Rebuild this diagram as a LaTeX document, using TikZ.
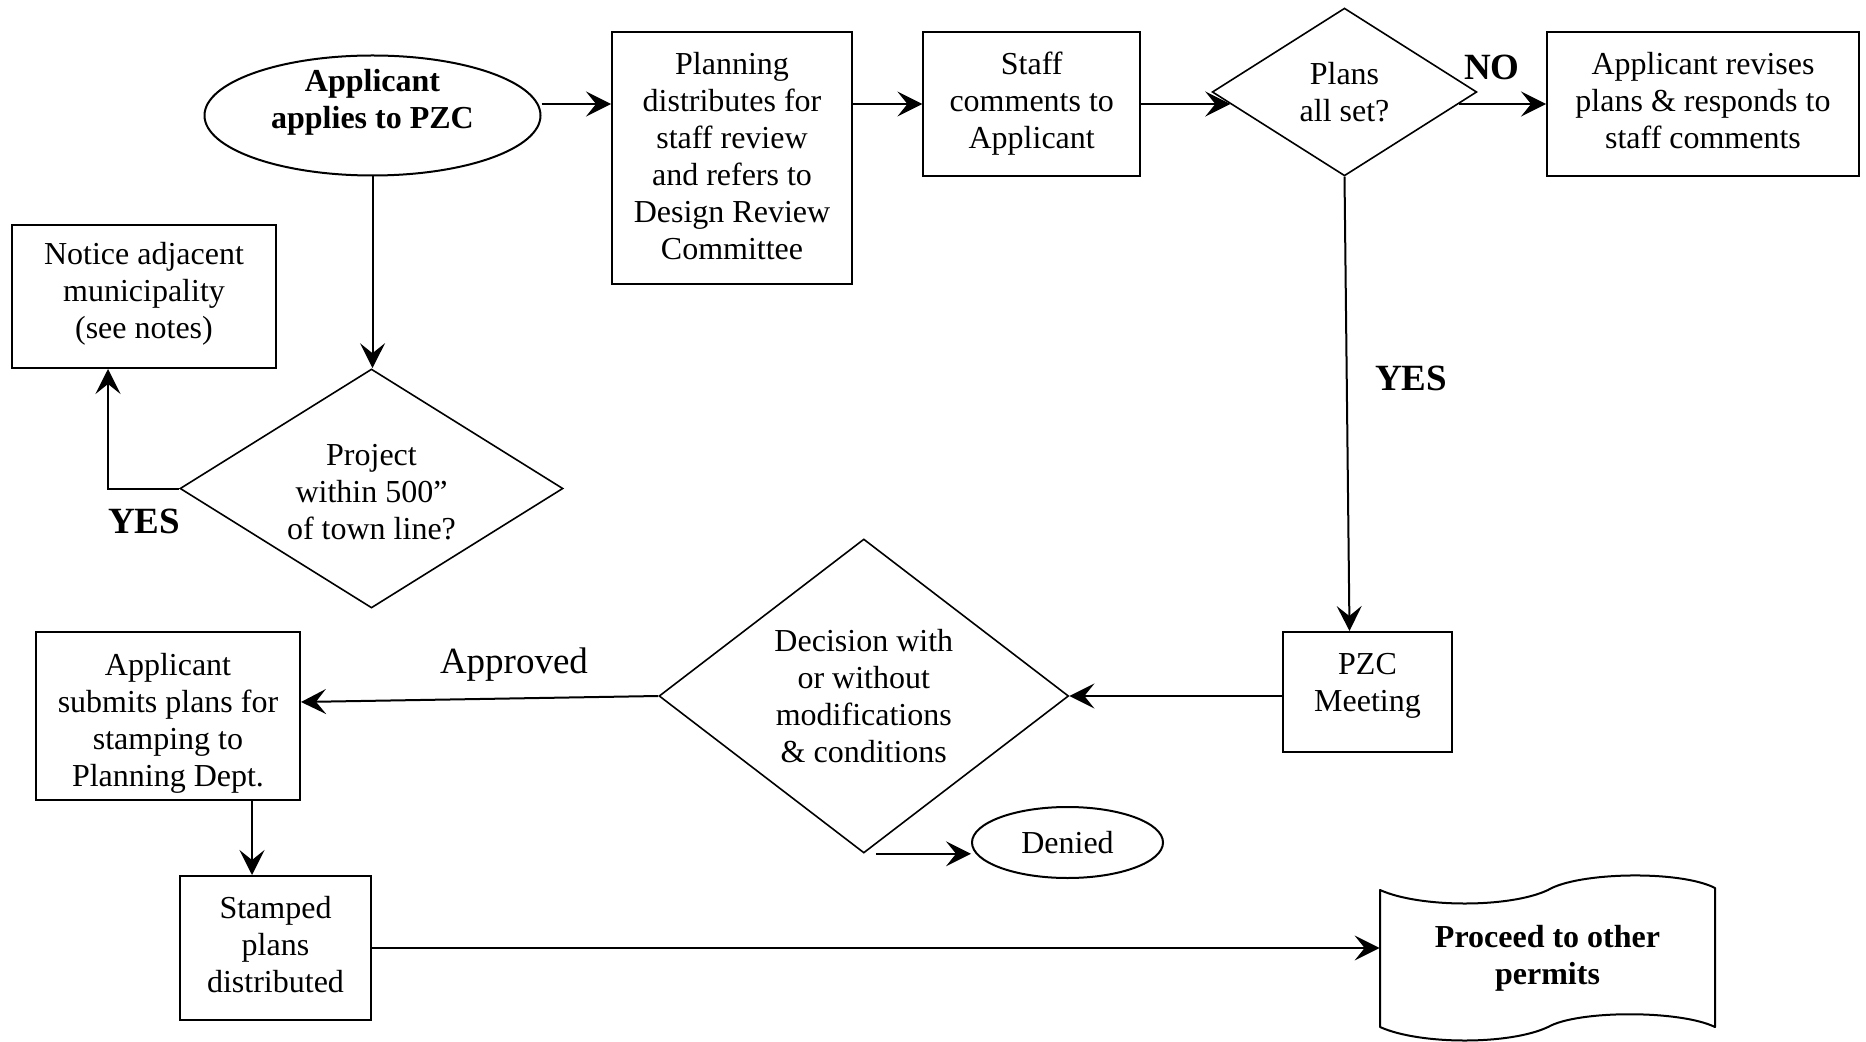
\documentclass[tikz,border=0pt]{standalone}
\usepackage{fontspec}
\setmainfont{Liberation Serif}
\usetikzlibrary{shapes.geometric,arrows.meta}
\begin{document}
\begin{tikzpicture}[x=0.5pt,y=-0.5pt,
  every node/.style={font=\fontsize{16}{18.5}\selectfont, align=center, inner sep=0pt},
  box/.style={draw, line width=1pt, rectangle},
  dia/.style={draw, diamond, line width=0.8pt},
  oval/.style={draw, ellipse, line width=1pt},
  arr/.style={-{Stealth[length=12.5pt,width=12.5pt,inset=5pt]}, line width=1pt},
  bold/.style={font=\fontsize{16}{18.5}\selectfont\bfseries},
  lab/.style={font=\fontsize{18.5}{22}\selectfont\bfseries},
  lab2/.style={font=\fontsize{18.5}{22}\selectfont}]
\useasboundingbox (0,0) rectangle (1866,1042);

% shapes
\node[oval, minimum width=168pt, minimum height=60pt] (app) at (372.5,115.5) {};
\node[bold] (appt) at (372.5,102.5) {Applicant\\applies to PZC};
\node[box, minimum width=120pt, minimum height=126pt] (plan) at (732,158.2) {};
\node (plant) at (732,155.8) {Planning\\distributes for\\staff review\\and refers to\\Design Review\\Committee};
\node[box, minimum width=108.3pt, minimum height=72pt] (staff) at (1031.7,104) {Staff\\comments to\\Applicant};
\node[dia, aspect=1.58, minimum width=132.3pt, minimum height=83.9pt] (plans) at (1344.5,92) {Plans\\all set?};
\node[box, minimum width=156pt, minimum height=72pt] (nobox) at (1703,104) {};
\node (noboxt) at (1703,100.5) {Applicant revises\\plans \& responds to\\staff comments};
\node[box, minimum width=132pt, minimum height=71.5pt] (notice) at (144,296.5) {};
\node (noticet) at (144,294.1) {Notice adjacent\\municipality\\ (see notes)};
\node[dia, aspect=1.6, minimum width=191.5pt, minimum height=119.5pt] (proj) at (371.5,488.5) {};
\node (projt) at (371.5,492) {Project\\within 500”\\of town line?};
\node[box, minimum width=84.5pt, minimum height=60pt] (pzc) at (1367.5,692) {};
\node (pzct) at (1367.5,686) {PZC\\Meeting};
\node[dia, aspect=1.3, minimum width=204.8pt, minimum height=157pt] (dec) at (863.8,696) {Decision with\\or without\\modifications\\\& conditions};
\node[box, minimum width=132pt, minimum height=84pt] (sub) at (168,716) {};
\node (subt) at (168,723) {Applicant\\submits plans for\\stamping to\\Planning Dept.};
\node[box, minimum width=95.5pt, minimum height=72pt] (stamped) at (275.5,948) {};
\node (stampedt) at (275.5,944.5) {Stamped\\plans\\distributed};
\node[oval, minimum width=95.5pt, minimum height=35.5pt] (den) at (1067.5,842.5) {Denied};
\node[minimum width=167.5pt, minimum height=60pt, bold] (tape) at (1547.5,958.5) {Proceed to other\\permits};

% tape outline
\draw[line width=1pt, line join=round]
  (1380,890) .. controls (1420,908) and (1510,908) .. (1548,890)
  .. controls (1578,872) and (1680,870) .. (1715,888)
  -- (1715,1027)
  .. controls (1680,1010) and (1578,1010) .. (1548,1027)
  .. controls (1510,1045) and (1420,1045) .. (1380,1027) -- cycle;

% connectors
\draw[arr] (app.east |- plans.186) -- (plan.west |- plans.186);
\draw[arr] (plan.east |- plans.186) -- (staff.west |- plans.186);
\draw[arr] (staff.east |- plans.186) -- (plans.186);
\draw[arr] (plans.-6) -- (plans.-6 -| nobox.west);
\draw[arr] (app.south) -- (app.south |- proj.north);
\draw[arr] (proj.west) -| ([xshift=-18pt]notice.south);
\coordinate (py) at ([xshift=2.5pt]plans.south);
\draw[arr] (plans.south) -- (py |- pzc.north);
\draw[arr] (pzc.west |- dec.east) -- (dec.east);
\draw[arr] (dec.west) -- ([yshift=7pt]sub.east);
\coordinate (sx) at ([xshift=-11.75pt]stamped.north);
\draw[arr] (sx |- sub.south) -- (sx);
\draw[arr] (stamped.east) -- (stamped.east -| tape.west);
\coordinate (dx) at ([xshift=6pt]dec.south);
\draw[arr] (dx) -- (dx -| den.west);

% labels
\node[lab] (lno) at (1492,67) {NO};
\node[lab] (lyes1) at (1411,378) {YES};
\node[lab] (lyes2) at (144,521) {YES};
\node[lab2] (lapp) at (514,665) {Approved};
\end{tikzpicture}
\end{document}
